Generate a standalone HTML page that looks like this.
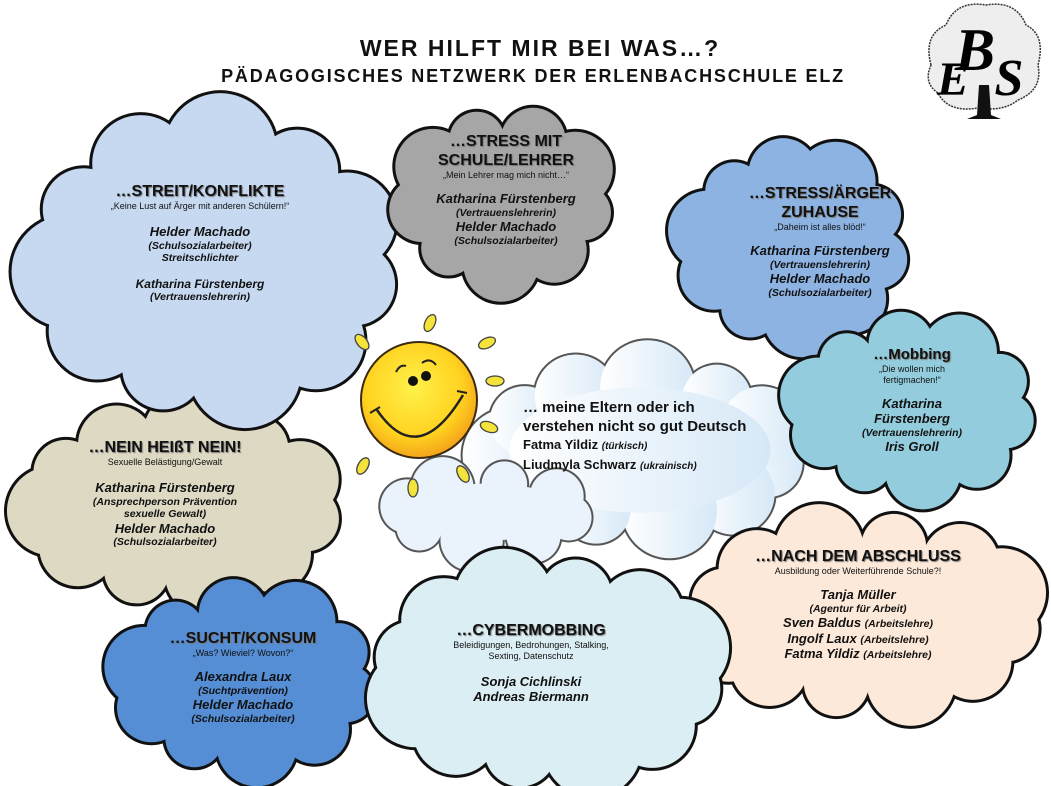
<!DOCTYPE html>
<html><head><meta charset="utf-8">
<style>
body{margin:0;width:1051px;height:786px;background:#fff;overflow:hidden;position:relative;font-family:"Liberation Sans",sans-serif;color:#111}
svg{position:absolute;left:0;top:0}
.t{position:absolute;text-align:center;transform:translateX(-50%);white-space:nowrap;line-height:1.2}
.h{font-weight:bold;font-size:16px;text-shadow:1px 1px 1px #777}
.s{font-size:9px}
.n{font-weight:bold;font-style:italic;font-size:13px}
.r{font-weight:bold;font-style:italic;font-size:10.5px}
</style></head><body>
<svg id="sv" width="1051" height="786" viewBox="0 0 1051 786">
<defs>
<radialGradient id="sun" cx="45%" cy="40%" r="60%"><stop offset="0" stop-color="#fff14a"/><stop offset="0.7" stop-color="#ffd21f"/><stop offset="1" stop-color="#f4a41a"/></radialGradient>
<linearGradient id="mid" x1="0" x2="1"><stop offset="0" stop-color="#ffffff"/><stop offset="1" stop-color="#d6e8f7"/></linearGradient>
</defs>
<g id="clouds"></g>
<g id="sung">
<circle cx="419" cy="400" r="58" fill="url(#sun)" stroke="#3a2a10" stroke-width="2"/>
<path d="M377 410 Q418 470 463 395" fill="none" stroke="#222" stroke-width="2.5"/>
<path d="M370 413 l10 -6 M457 391 l10 2" stroke="#222" stroke-width="2"/>
<ellipse cx="413" cy="381" rx="5" ry="5" fill="#111"/><ellipse cx="426" cy="376" rx="5" ry="5" fill="#111"/>
<path d="M396 372 q4 -8 10 -6 M422 363 q8 -6 14 2" fill="none" stroke="#222" stroke-width="2"/>
</g>
<g fill="#f3e33a" stroke="#444" stroke-width="1.3">
<ellipse cx="430" cy="323" rx="5" ry="9" transform="rotate(25 430 323)"/>
<ellipse cx="487" cy="343" rx="5" ry="9" transform="rotate(65 487 343)"/>
<ellipse cx="495" cy="381" rx="5" ry="9" transform="rotate(90 495 381)"/>
<ellipse cx="489" cy="427" rx="5" ry="9" transform="rotate(110 489 427)"/>
<ellipse cx="463" cy="474" rx="5" ry="9" transform="rotate(150 463 474)"/>
<ellipse cx="413" cy="488" rx="5" ry="9" transform="rotate(180 413 488)"/>
<ellipse cx="363" cy="466" rx="5" ry="9" transform="rotate(210 363 466)"/>
<ellipse cx="362" cy="342" rx="5" ry="9" transform="rotate(-40 362 342)"/>
</g>
<g transform="translate(983,65)">
<path d="M-52 0 q-8 -30 15 -40 q10 -25 40 -20 q30 -5 40 20 q20 10 12 40 q5 25 -20 35 q-15 12 -40 8 q-30 5 -40 -15 q-15 -10 -7 -28z" fill="#eee" stroke="#333" stroke-width="1.5" stroke-dasharray="2 1"/>
<path d="M-4 20 L-6 50 L-16 54 L18 54 L8 50 L6 20z" fill="#111"/>
<text x="-8" y="5" font-family="Liberation Serif" font-style="italic" font-size="60" font-weight="bold" text-anchor="middle">B</text>
<text x="-30" y="30" font-family="Liberation Serif" font-style="italic" font-size="48" font-weight="bold" text-anchor="middle">E</text>
<text x="26" y="30" font-family="Liberation Serif" font-style="italic" font-size="52" font-weight="bold" text-anchor="middle">S</text>
</g>
</svg>

<div class="t" style="left:540px;top:35px;font-size:23px;font-weight:bold;letter-spacing:2px">WER HILFT MIR BEI WAS…?</div>
<div class="t" style="left:533px;top:66px;font-size:18px;font-weight:bold;letter-spacing:1.8px">PÄDAGOGISCHES NETZWERK DER ERLENBACHSCHULE ELZ</div>

<div class="t" style="left:200px;top:182px"><div class="h">…STREIT/KONFLIKTE</div><div class="s">„Keine Lust auf Ärger mit anderen Schülern!“</div><div style="height:12px"></div><div class="n">Helder Machado</div><div class="r">(Schulsozialarbeiter)</div><div class="r">Streitschlichter</div><div style="height:12px"></div><div class="n" style="font-size:12px">Katharina Fürstenberg</div><div class="r">(Vertrauenslehrerin)</div></div>

<div class="t" style="left:506px;top:132px"><div class="h">…STRESS MIT<br>SCHULE/LEHRER</div><div class="s">„Mein Lehrer mag mich nicht…“</div><div style="height:10px"></div><div class="n">Katharina Fürstenberg</div><div class="r">(Vertrauenslehrerin)</div><div class="n">Helder Machado</div><div class="r">(Schulsozialarbeiter)</div></div>

<div class="t" style="left:820px;top:184px"><div class="h">…STRESS/ÄRGER<br>ZUHAUSE</div><div class="s">„Daheim ist alles blöd!“</div><div style="height:10px"></div><div class="n">Katharina Fürstenberg</div><div class="r">(Vertrauenslehrerin)</div><div class="n">Helder Machado</div><div class="r">(Schulsozialarbeiter)</div></div>

<div class="t" style="left:912px;top:346px"><div class="h" style="font-size:15px">…Mobbing</div><div class="s">„Die wollen mich<br>fertigmachen!“</div><div style="height:10px"></div><div class="n">Katharina<br>Fürstenberg</div><div class="r">(Vertrauenslehrerin)</div><div class="n">Iris Groll</div></div>

<div style="position:absolute;left:523px;top:398px;font-weight:bold;font-size:15px;line-height:19px;white-space:nowrap">… meine Eltern oder ich<br>verstehen nicht so gut Deutsch<div style="font-size:13px;line-height:18px">Fatma Yildiz <i style="font-size:10px">(türkisch)</i><br>Liudmyla Schwarz <i style="font-size:10px">(ukrainisch)</i></div></div>

<div class="t" style="left:165px;top:438px"><div class="h">…NEIN HEIßT NEIN!</div><div class="s">Sexuelle Belästigung/Gewalt</div><div style="height:12px"></div><div class="n">Katharina Fürstenberg</div><div class="r">(Ansprechperson Prävention<br>sexuelle Gewalt)</div><div class="n">Helder Machado</div><div class="r">(Schulsozialarbeiter)</div></div>

<div class="t" style="left:243px;top:629px"><div class="h">…SUCHT/KONSUM</div><div class="s">„Was? Wieviel? Wovon?“</div><div style="height:10px"></div><div class="n">Alexandra Laux</div><div class="r">(Suchtprävention)</div><div class="n">Helder Machado</div><div class="r">(Schulsozialarbeiter)</div></div>

<div class="t" style="left:531px;top:621px"><div class="h">…CYBERMOBBING</div><div class="s">Beleidigungen, Bedrohungen, Stalking,<br>Sexting, Datenschutz</div><div style="height:12px"></div><div class="n">Sonja Cichlinski</div><div class="n">Andreas Biermann</div></div>

<div class="t" style="left:858px;top:547px"><div class="h">…NACH DEM ABSCHLUSS</div><div class="s">Ausbildung oder Weiterführende Schule?!</div><div style="height:10px"></div><div class="n">Tanja Müller</div><div class="r">(Agentur für Arbeit)</div><div class="n">Sven Baldus <span class="r">(Arbeitslehre)</span></div><div class="n">Ingolf Laux <span class="r">(Arbeitslehre)</span></div><div class="n">Fatma Yildiz <span class="r">(Arbeitslehre)</span></div></div>

<script>
var NS="http://www.w3.org/2000/svg",G=document.getElementById('clouds');
function cloud(cx,cy,rx,ry,n,br,fill,stroke,sw){
  var g=document.createElementNS(NS,'g'),pts=[];
  for(var i=0;i<n;i++){var a=i/n*2*Math.PI+0.2;pts.push([cx+(rx-br*0.7)*Math.cos(a),cy+(ry-br*0.7)*Math.sin(a),br*(0.85+0.3*((i*7)%3)/2)]);}
  function add(tag,at){var e=document.createElementNS(NS,tag);for(var k in at)e.setAttribute(k,at[k]);g.appendChild(e);}
  pts.forEach(function(p){add('circle',{cx:p[0],cy:p[1],r:p[2]+sw/2,fill:stroke});});
  pts.forEach(function(p){add('circle',{cx:p[0],cy:p[1],r:p[2]-sw/2,fill:fill});});
  add('ellipse',{cx:cx,cy:cy,rx:rx-br*0.7,ry:ry-br*0.7,fill:fill});
  G.appendChild(g);
}
cloud(640,450,160,92,11,42,'url(#mid)','#555',2);
cloud(488,512,102,48,8,28,'#eaf3fb','#555',2);
cloud(180,505,157,98,11,40,'#ddd9c3','#111',3);
cloud(212,262,180,148,11,50,'#c6d9f1','#111',3);
cloud(503,200,106,88,9,34,'#a6a6a6','#111',3);
cloud(793,245,112,98,10,36,'#8db3e2','#111',3);
cloud(912,408,120,88,10,34,'#93cddd','#111',3);
cloud(865,615,172,98,12,40,'#fde9d9','#111',3);
cloud(245,680,128,92,10,36,'#558ed5','#111',3);
cloud(548,673,170,110,12,44,'#dbeef4','#111',3);
</script>
</body></html>
